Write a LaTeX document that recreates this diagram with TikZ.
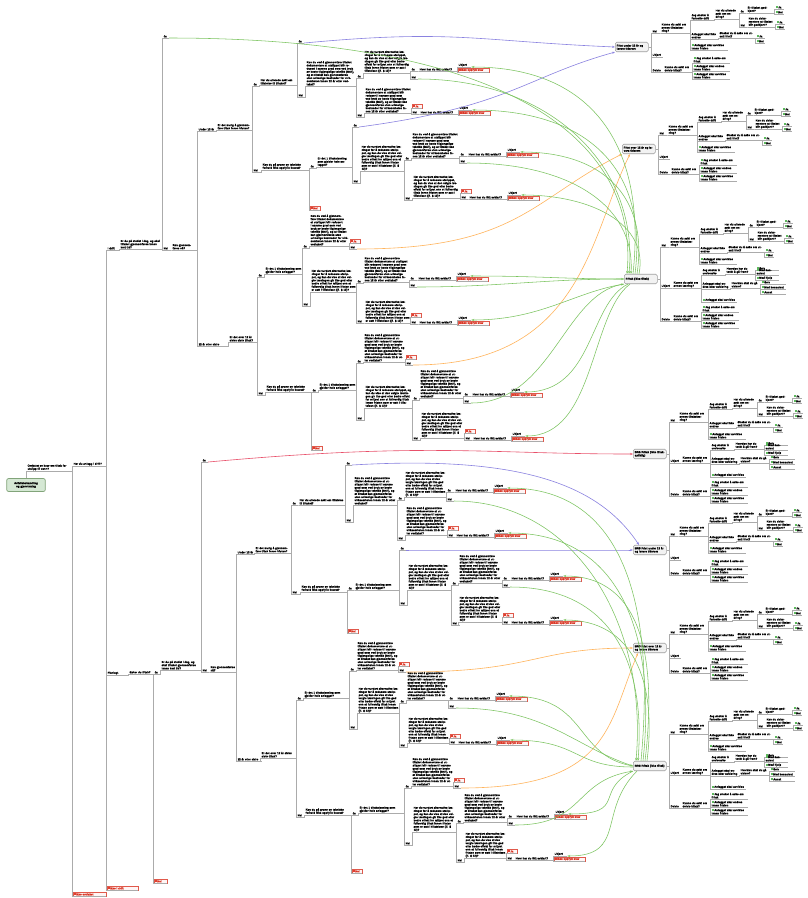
\documentclass[tikz,border=0pt]{standalone}
\usepackage{fontspec}
\setmainfont{Liberation Sans}[BoldFeatures={FakeBold=0.6}]
\usetikzlibrary{arrows.meta}
\definecolor{lg}{HTML}{ABABAB}
\definecolor{gcol}{HTML}{7CC460}
\definecolor{pcol}{HTML}{8A82E0}
\definecolor{ocol}{HTML}{FFB45C}
\definecolor{rcol}{HTML}{E8506A}
\definecolor{redt}{HTML}{D8301E}
\definecolor{iconr}{HTML}{E04030}
\definecolor{icong}{HTML}{5CB85C}
\definecolor{rootf}{HTML}{D5E8D4}
\definecolor{rootd}{HTML}{82A47A}
\newcommand\fnt{\fontsize{2.75}{3.15}\selectfont\bfseries}
\newcommand\ric{{\color{iconr}\rule{2.2pt}{2.2pt}}\hspace{0.5pt}}
\newcommand\gic{{\color{icong}\rule{2.2pt}{2.2pt}}\hspace{0.5pt}}
\newcommand\LA{Kan du ved å gjennomføre tiltaket dokumentere at utslippet blir redusert i samme grad som ved bruk av beste tilgjengelige teknikk (BAT), og at tiltaket kan gjennomføres uten urimelige kostnader for virksomheten innen 12 år etter vedtaket?}
\newcommand\LB{Har du vurdert alternative løsninger for å redusere utslippet, og kan du vise at den valgte løsningen gir like god eller bedre effekt for miljøet enn et fullverdig tiltak innen fristen som er satt i tillatelsen (jf. § 12)?}
\tikzset{
 ul/.style={draw=lg,line width=0.75pt},
 tn/.style={anchor=south west,inner xsep=0.4pt,inner ysep=0.5pt,font=\fnt,align=left,
   append after command={(\tikzlastnode.south west) edge[ul] (\tikzlastnode.south east)}},
 redleaf/.style={tn,text=redt,draw=redt!80,fill=red!4,line width=0.35pt},
 conn/.style={draw=lg,line width=0.75pt},
 rbox/.style={anchor=west,draw=gray!75,fill=gray!10,rounded corners=1.5pt,line width=0.6pt,minimum width=33pt,minimum height=9.5pt,text width=30pt,inner sep=0.8pt,align=left,font=\fnt},
 rootbox/.style={draw=rootd,fill=rootf,rounded corners=2pt,line width=0.7pt,minimum width=36pt,minimum height=13pt,text width=32pt,align=center,font=\fnt},
 arrowtip/.style={-{Stealth[length=3pt,width=2.2pt]}},
 gline/.style={draw=gcol,line width=0.55pt,arrowtip},
 pline/.style={draw=pcol,line width=0.6pt,arrowtip},
 oline/.style={draw=ocol,line width=0.6pt,arrowtip},
 rline/.style={draw=rcol,line width=0.6pt,arrowtip},
}
\newcommand\mkn[4]{\node[tn,text width=#3pt] (#1) at (#2) {#4};}
\newcommand\mkr[4]{\node[redleaf,text width=#3pt] (#1) at (#2) {\ric#4};}
\newcommand\mkg[4]{\node[tn,text width=#3pt] (#1) at (#2) {\gic#4};}
\newcommand\lnk[2]{\draw[conn] (#1.south east) -| ([xshift=-0.5pt]#2.south west) -- (#2.south west);}
\newcommand\blnk[2]{\draw[conn] (#1.east) -| ([xshift=-0.5pt]#2.south west) -- (#2.south west);}
\newcommand\hvr[4]{%
 \mkn{#1j}{#2,#3}{5.5}{#4}
 \mkn{#1h}{#2+8,#3}{37}{Hvor har du fått avklart?}
 \mkn{#1u}{#2+47,#3-4}{12}{Ukjent}
 \mkr{#1r}{#2+47,#3+1}{30}{Ikke oppfylt krav}
 \lnk{#1j}{#1h}\lnk{#1h}{#1u}\lnk{#1h}{#1r}}
\newcommand\neisub[1]{%
 \mkn{#1nei}{0,0}{7}{Nei}
 \mkn{#1q}{9,0}{27}{Kunne du søkt om annen tiltaksløsning?}
 \mkn{#1a}{39,-13}{22}{Jeg ønsker å fortsette drift}
 \mkn{#1aq}{63,-14}{23}{Har du allerede søkt om endring?}
 \mkn{#1aj}{88,-20}{5}{Ja}
 \mkn{#1ajq}{95,-20}{26}{Er tiltaket godkjent?}
 \mkg{#1ajqa}{123,-24}{8}{Ja}
 \mkg{#1ajqb}{123,-19}{8}{Nei}
 \mkn{#1an}{88,-6}{6}{Nei}
 \mkn{#1anq}{96,-6}{26}{Kan du dokumentere at tiltaket blir godkjent?}
 \mkg{#1anqa}{124,-9}{8}{Ja}
 \mkg{#1anqb}{124,-4}{8}{Nei}
 \mkn{#1b}{39,6}{26}{Anlegget skal ikke endres}
 \mkn{#1bq}{67,5}{34}{Ønsker du å søke om utsatt frist?}
 \mkg{#1bqa}{104,5}{8}{Ja}
 \mkg{#1bqb}{104,10}{8}{Nei}
 \mkg{#1c}{39,17}{36}{Anlegget skal avvikles innen fristen}
 \lnk{#1nei}{#1q}\lnk{#1q}{#1a}\lnk{#1q}{#1b}\lnk{#1q}{#1c}
 \lnk{#1a}{#1aq}\lnk{#1aq}{#1aj}\lnk{#1aq}{#1an}
 \lnk{#1aj}{#1ajq}\lnk{#1ajq}{#1ajqa}\lnk{#1ajq}{#1ajqb}
 \lnk{#1an}{#1anq}\lnk{#1anq}{#1anqa}\lnk{#1anq}{#1anqb}
 \lnk{#1b}{#1bq}\lnk{#1bq}{#1bqa}\lnk{#1bq}{#1bqb}}
\newcommand\delsub[1]{%
 \mkn{#1del}{0,0}{10}{Delvis}
 \mkn{#1dq}{12,0}{26}{Kunne du søkt om delvis fritak?}
 \mkg{#1da}{41,-9}{36}{Jeg ønsker å søke om fritak}
 \mkg{#1db}{41,-1}{36}{Anlegget skal endres innen fristen}
 \mkg{#1dc}{41,7}{36}{Anlegget skal avvikles innen fristen}
 \lnk{#1del}{#1dq}\lnk{#1dq}{#1da}\lnk{#1dq}{#1db}\lnk{#1dq}{#1dc}}
\newcommand\ukjsub[1]{%
 \mkn{#1u}{0,0}{10}{Ukjent}
 \mkn{#1uq}{12,0}{26}{Kunne du søkt om annen løsning?}
 \mkn{#1ua}{41,-13}{22}{Jeg ønsker å undersøke}
 \mkn{#1uaq}{65,-14}{27}{Hvordan har du tenkt å gå fram?}
 \mkg{#1uaa}{95,-18}{22}{Selv}
 \mkg{#1uab}{95,-13}{22}{Med konsulent}
 \mkg{#1uac}{95,-8}{22}{Med hjelp}
 \mkn{#1ub}{41,1}{27}{Anlegget skal endres etter avklaring}
 \mkn{#1ubq}{70,0}{27}{Hvordan skal du gå videre?}
 \mkg{#1uba}{100,-4}{24}{Selv}
 \mkg{#1ubb}{100,1}{24}{Med konsulent}
 \mkg{#1ubc}{100,6}{24}{Annet}
 \mkg{#1uc}{41,14}{34}{Anlegget skal avvikles}
 \lnk{#1u}{#1uq}\lnk{#1uq}{#1ua}\lnk{#1uq}{#1ub}\lnk{#1uq}{#1uc}
 \lnk{#1ua}{#1uaq}\lnk{#1uaq}{#1uaa}\lnk{#1uaq}{#1uab}\lnk{#1uaq}{#1uac}
 \lnk{#1ub}{#1ubq}\lnk{#1ubq}{#1uba}\lnk{#1ubq}{#1ubb}\lnk{#1ubq}{#1ubc}}
\newcommand\rshort[3]{\begin{scope}[shift={(#2)}]
 \node[rbox] (#1) at (0,0) {#3};
 \begin{scope}[shift={(37,-14)}]\neisub{#1}\end{scope}
 \begin{scope}[shift={(37,10)}]\mkn{#1u}{0,0}{10}{Ukjent}\end{scope}
 \begin{scope}[shift={(37,25)}]\delsub{#1}\end{scope}
 \blnk{#1}{#1nei}\blnk{#1}{#1u}\blnk{#1}{#1del}
 \end{scope}}
\newcommand\rfull[3]{\begin{scope}[shift={(#2)}]
 \node[rbox] (#1) at (0,0) {#3};
 \begin{scope}[shift={(37,-32)}]\neisub{#1}\end{scope}
 \begin{scope}[shift={(37,9)}]\ukjsub{#1}\end{scope}
 \begin{scope}[shift={(37,42)}]\delsub{#1}\end{scope}
 \blnk{#1}{#1nei}\blnk{#1}{#1u}\blnk{#1}{#1del}
 \end{scope}}
\begin{document}
\begin{tikzpicture}[x=1pt,y=-1pt]
\useasboundingbox (0,0) rectangle (807,898);
\fill[white] (0,0) rectangle (807,898);
% ---------- spine ----------
\node[rootbox] (root) at (26,485) {Avfallsbehandling og gjenvinning};
\mkn{A}{27,471}{43}{Omfattet av krav om tiltak for utslipp til vann?}
\draw[conn] (root.north) |- (A.south west);
\mkn{B}{73,466}{32}{Har du anlegg i drift?}
\mkr{C}{73,896}{32}{Ikke omfattet}
\lnk{A}{B}\lnk{A}{C}
\mkn{D1}{107,250}{11}{I drift}
\mkn{D2}{107,675}{20}{Planlagt}
\mkr{D3}{107,890}{30}{Ikke i drift}
\lnk{B}{D1}\lnk{B}{D2}\lnk{B}{D3}
% ---------- upper half ----------
\mkn{E1}{120,249}{40}{Er du på stedet i dag, og skal tiltaket gjennomføres innen kort tid?}
\lnk{D1}{E1}
\mkn{F1}{163,38}{5}{Ja}
\mkn{F2}{163,250}{7}{Nei}
\lnk{E1}{F1}\lnk{E1}{F2}
\mkn{G}{172,250}{24}{Kan gjennomføres nå?}
\lnk{F2}{G}
\mkn{H1}{198,131}{17}{Under 12 år}
\mkn{H2}{198,346}{28}{12 år eller eldre}
\lnk{G}{H1}\lnk{G}{H2}
\mkn{I1}{217,130}{34}{Er det mulig å gjennomføre tiltak innen fristen?}
\lnk{H1}{I1}
\mkn{J1}{253,86}{5}{Ja}
\mkn{J2}{253,172}{7}{Nei}
\lnk{I1}{J1}\lnk{I1}{J2}
\mkn{K1}{260,85}{36}{Har du allerede søkt om tillatelse til tiltaket?}
\lnk{J1}{K1}
\mkn{L1}{298,43}{5}{Ja}
\mkn{L2}{298,97}{6}{Nei}
\lnk{K1}{L1}\lnk{K1}{L2}
\mkn{M1}{306,86}{49}{\LA}
\lnk{L2}{M1}
\mkn{n1}{357,78}{5}{Ja}
\mkn{n2}{357,117}{6}{Nei}
\lnk{M1}{n1}\lnk{M1}{n2}
\mkn{N1}{364,73}{45}{\LB}
\mkn{N2}{365,113}{45}{\LA}
\lnk{n1}{N1}\lnk{n2}{N2}
\hvr{a1}{411}{71}{Ja}
\mkn{g1}{411,79}{6}{Nei}
\lnk{N1}{a1j}\lnk{N1}{g1}
\mkr{rr1}{412,108}{9}{Ja}
\hvr{a2}{412}{114}{Nei}
\lnk{N2}{rr1}\lnk{N2}{a2j}
\mkn{I2}{262,170}{46}{Kan du på grunn av tekniske forhold ikke oppfylle kravet?}
\lnk{J2}{I2}
\mkn{J3}{310,168}{5}{Ja}
\mkr{rr2}{310,210}{9}{Nei}
\lnk{I2}{J3}\lnk{I2}{rr2}
\mkn{K2}{317,167}{34}{Er det 1 tiltaksløsning som gjelder hele anlegget?}
\lnk{J3}{K2}
\mkn{L3}{353,127}{5}{Ja}
\mkn{L4}{353,183}{6}{Nei}
\lnk{K2}{L3}\lnk{K2}{L4}
\mkn{M2}{361,171}{42}{\LB}
\lnk{L4}{M2}
\mkn{n3}{405,160}{5}{Ja}
\mkn{n4}{405,200}{6}{Nei}
\lnk{M2}{n3}\lnk{M2}{n4}
\mkn{N3}{412,158}{45}{\LA}
\mkn{N4}{413,198}{45}{\LB}
\lnk{n3}{N3}\lnk{n4}{N4}
\hvr{a3}{460}{156}{Ja}
\mkn{g2}{460,163}{6}{Nei}
\lnk{N3}{a3j}\lnk{N3}{g2}
\mkr{rr3}{461,193}{9}{Ja}
\hvr{a4}{461}{199}{Nei}
\lnk{N4}{rr3}\lnk{N4}{a4j}
\mkn{I3}{229,342}{27}{Er det over 12 år siden siste tiltak?}
\lnk{H2}{I3}
\mkn{J5}{258,277}{5}{Ja}
\mkn{J6}{258,395}{6}{Nei}
\lnk{I3}{J5}\lnk{I3}{J6}
\mkn{K3}{265,274}{36}{Er det 1 tiltaksløsning som gjelder hele anlegget?}
\lnk{J5}{K3}
\mkn{L5}{303,248}{5}{Ja}
\mkn{L6}{303,306}{6}{Nei}
\lnk{K3}{L5}\lnk{K3}{L6}
\mkn{M3}{310,246}{38}{\LA}
\lnk{L5}{M3}
\mkr{rr4}{350,243}{9}{Ja}
\mkn{o1}{350,249}{6}{Nei}
\lnk{M3}{rr4}\lnk{M3}{o1}
\mkn{M4}{311,292}{44}{\LB}
\lnk{L6}{M4}
\mkn{n5}{357,283}{5}{Ja}
\mkn{n6}{357,323}{6}{Nei}
\lnk{M4}{n5}\lnk{M4}{n6}
\mkn{N5}{364,282}{44}{\LA}
\mkn{N6}{365,323}{44}{\LB}
\lnk{n5}{N5}\lnk{n6}{N6}
\hvr{a5}{410}{280}{Ja}
\mkn{g3}{410,287}{6}{Nei}
\lnk{N5}{a5j}\lnk{N5}{g3}
\mkr{rr5}{411,317}{9}{Ja}
\hvr{a6}{411}{324}{Nei}
\lnk{N6}{rr5}\lnk{N6}{a6j}
\mkn{I4}{266,392}{44}{Kan du på grunn av tekniske forhold ikke oppfylle kravet?}
\lnk{J6}{I4}
\mkn{J7}{312,392}{5}{Ja}
\mkr{rr6}{312,450}{9}{Nei}
\lnk{I4}{J7}\lnk{I4}{rr6}
\mkn{K4}{319,390}{36}{Er det 1 tiltaksløsning som gjelder hele anlegget?}
\lnk{J7}{K4}
\mkn{L7}{357,363}{5}{Ja}
\mkn{L8}{357,420}{6}{Nei}
\lnk{K4}{L7}\lnk{K4}{L8}
\mkn{M5}{364,362}{40}{\LA}
\lnk{L7}{M5}
\mkr{rr7}{406,359}{9}{Ja}
\mkn{o2}{406,365}{6}{Nei}
\lnk{M5}{rr7}\lnk{M5}{o2}
\mkn{M6}{365,408}{46}{\LB}
\lnk{L8}{M6}
\mkn{n7}{413,400}{5}{Ja}
\mkn{n8}{413,440}{6}{Nei}
\lnk{M6}{n7}\lnk{M6}{n8}
\mkn{N7}{420,398}{42}{\LA}
\mkn{N8}{421,438}{42}{\LB}
\lnk{n7}{N7}\lnk{n8}{N8}
\hvr{a7}{464}{396}{Ja}
\mkn{g4}{464,403}{6}{Nei}
\lnk{N7}{a7j}\lnk{N7}{g4}
\mkr{rr8}{465,433}{9}{Ja}
\hvr{a8}{465}{440}{Nei}
\lnk{N8}{rr8}\lnk{N8}{a8j}
% ---------- lower half ----------
\mkn{S}{129,674}{23}{Søker du tiltak?}
\lnk{D2}{S}
\mkn{T1}{154,674}{5}{Ja}
\mkr{rr9}{154,883}{12}{Nei}
\lnk{S}{T1}\lnk{S}{rr9}
\mkn{E2}{161,670}{39}{Er du på stedet i dag, og skal tiltaket gjennomføres innen kort tid?}
\lnk{T1}{E2}
\mkn{U1}{202,462}{5}{Ja}
\mkn{U2}{202,672}{6}{Nei}
\lnk{E2}{U1}\lnk{E2}{U2}
\mkn{G2}{210,672}{25}{Kan gjennomføres nå?}
\lnk{U2}{G2}
\mkn{H3}{237,554}{16}{Under 12 år}
\mkn{H4}{237,761}{23}{12 år eller eldre}
\lnk{G2}{H3}\lnk{G2}{H4}
\mkn{I5}{255,553}{35}{Er det mulig å gjennomføre tiltak innen fristen?}
\lnk{H3}{I5}
\mkn{V1}{292,505}{5}{Ja}
\mkn{V2}{292,594}{6}{Nei}
\lnk{I5}{V1}\lnk{I5}{V2}
\mkn{K5}{299,505}{45}{Har du allerede søkt om tillatelse til tiltaket?}
\lnk{V1}{K5}
\mkn{W1}{346,465}{5}{Ja}
\mkn{W2}{346,522}{6}{Nei}
\lnk{K5}{W1}\lnk{K5}{W2}
\mkn{M7}{354,505}{42}{\LA}
\lnk{W2}{M7}
\mkn{n9}{398,500}{5}{Ja}
\mkn{n10}{398,540}{6}{Nei}
\lnk{M7}{n9}\lnk{M7}{n10}
\mkn{N9}{405,497}{40}{\LB}
\mkn{N10}{406,535}{40}{\LA}
\lnk{n9}{N9}\lnk{n10}{N10}
\hvr{b1}{447}{492}{Ja}
\mkn{g5}{447,501}{6}{Nei}
\lnk{N9}{b1j}\lnk{N9}{g5}
\mkr{rr10}{448,530}{9}{Ja}
\hvr{b2}{448}{537}{Nei}
\lnk{N10}{rr10}\lnk{N10}{b2j}
\mkn{I6}{301,592}{45}{Kan du på grunn av tekniske forhold ikke oppfylle kravet?}
\lnk{V2}{I6}
\mkn{X1}{348,590}{5}{Ja}
\mkr{rr11}{348,633}{9}{Nei}
\lnk{I6}{X1}\lnk{I6}{rr11}
\mkn{K6}{355,590}{43}{Er det 1 tiltaksløsning som gjelder hele anlegget?}
\lnk{X1}{K6}
\mkn{W3}{400,550}{5}{Ja}
\mkn{W4}{400,605}{6}{Nei}
\lnk{K6}{W3}\lnk{K6}{W4}
\mkn{M8}{408,590}{42}{\LB}
\lnk{W4}{M8}
\mkn{n11}{452,585}{5}{Ja}
\mkn{n12}{452,625}{6}{Nei}
\lnk{M8}{n11}\lnk{M8}{n12}
\mkn{N11}{459,583}{42}{\LA}
\mkn{N12}{459,622}{42}{\LB}
\lnk{n11}{N11}\lnk{n12}{N12}
\hvr{b3}{503}{580}{Ja}
\mkn{g6}{503,587}{6}{Nei}
\lnk{N11}{b3j}\lnk{N11}{g6}
\mkr{rr12}{503,617}{9}{Ja}
\hvr{b4}{503}{624}{Nei}
\lnk{N12}{rr12}\lnk{N12}{b4j}
\mkn{I7}{261,758}{34}{Er det over 12 år siden siste tiltak?}
\lnk{H4}{I7}
\mkn{Y1}{297,700}{5}{Ja}
\mkn{Y2}{297,817}{6}{Nei}
\lnk{I7}{Y1}\lnk{I7}{Y2}
\mkn{K7}{304,698}{44}{Er det 1 tiltaksløsning som gjelder hele anlegget?}
\lnk{Y1}{K7}
\mkn{Z1}{350,671}{5}{Ja}
\mkn{Z2}{350,729}{6}{Nei}
\lnk{K7}{Z1}\lnk{K7}{Z2}
\mkn{M9}{357,670}{40}{\LA}
\lnk{Z1}{M9}
\mkr{rr13}{399,666}{9}{Ja}
\mkn{o3}{399,672}{6}{Nei}
\lnk{M9}{rr13}\lnk{M9}{o3}
\mkn{M10}{358,713}{40}{\LB}
\lnk{Z2}{M10}
\mkn{n13}{400,703}{5}{Ja}
\mkn{n14}{400,747}{6}{Nei}
\lnk{M10}{n13}\lnk{M10}{n14}
\mkn{N13}{407,700}{40}{\LA}
\mkn{N14}{408,743}{40}{\LB}
\lnk{n13}{N13}\lnk{n14}{N14}
\hvr{b5}{449}{700}{Ja}
\mkn{g7}{449,708}{6}{Nei}
\lnk{N13}{b5j}\lnk{N13}{g7}
\mkr{rr14}{450,738}{9}{Ja}
\hvr{b6}{450}{744}{Nei}
\lnk{N14}{rr14}\lnk{N14}{b6j}
\mkn{I8}{305,815}{45}{Kan du på grunn av tekniske forhold ikke oppfylle kravet?}
\lnk{Y2}{I8}
\mkn{Z3}{352,815}{5}{Ja}
\mkr{rr15}{352,873}{9}{Nei}
\lnk{I8}{Z3}\lnk{I8}{rr15}
\mkn{K8}{359,813}{44}{Er det 1 tiltaksløsning som gjelder hele anlegget?}
\lnk{Z3}{K8}
\mkn{Z4}{405,788}{5}{Ja}
\mkn{Z5}{405,845}{6}{Nei}
\lnk{K8}{Z4}\lnk{K8}{Z5}
\mkn{M11}{412,786}{40}{\LA}
\lnk{Z4}{M11}
\mkr{rr16}{454,782}{9}{Ja}
\mkn{o4}{454,788}{6}{Nei}
\lnk{M11}{rr16}\lnk{M11}{o4}
\mkn{M12}{413,832}{42}{\LB}
\lnk{Z5}{M12}
\mkn{n15}{457,823}{5}{Ja}
\mkn{n16}{457,862}{6}{Nei}
\lnk{M12}{n15}\lnk{M12}{n16}
\mkn{N15}{464,822}{42}{\LA}
\mkn{N16}{465,858}{40}{\LB}
\lnk{n15}{N15}\lnk{n16}{N16}
\hvr{b7}{508}{818}{Ja}
\mkn{g8}{508,825}{6}{Nei}
\lnk{N15}{b7j}\lnk{N15}{g8}
\mkr{rr17}{507,853}{9}{Ja}
\hvr{b8}{507}{860}{Nei}
\lnk{N16}{rr17}\lnk{N16}{b8j}
% ---------- right side ----------
\rshort{r1}{615,47}{Frist under 12 år og lavere tidsrom}
\rshort{r2}{622,149}{Frist over 12 år og lavere tidsrom}
\rfull{r3}{624,279}{Fritak (ikke tiltak)}
\rfull{r4}{633,454}{BRS Fritak (ikke tiltakspliktig)}
\rshort{r5}{633,550}{BRS Frist under 12 år og lavere tidsrom}
\rshort{r6}{633,648}{BRS Frist over 12 år og lavere tidsrom}
\rfull{r7}{633,766}{BRS Fritak (ikke tiltak)}
% ---------- coloured links, upper ----------
\draw[pline] (L1.south east) .. controls +(150,-14) and +(-140,-6) .. (r1.west);
\draw[pline] (L3.south east) .. controls +(150,-20) and +(-90,25) .. (r1.south west);
\draw[oline] (o1.south east) .. controls +(160,0) and +(-90,45) .. (r2.south west);
\draw[oline] (o2.south east) .. controls +(170,0) and +(-40,80) .. ([xshift=8pt]r2.south west);
\draw[gline] (F1.south east) .. controls +(330,0) and +(12,-140) .. ([xshift=3pt]r3.north west);
\draw[gline] (g1.south east) .. controls +(130,0) and +(10,-110) .. ([xshift=5pt]r3.north west);
\draw[gline] (g2.south east) .. controls +(100,0) and +(4,-70) .. ([xshift=7pt]r3.north west);
\draw[gline] (g3.south east) .. controls +(80,0) and +(-80,0) .. (r3.west);
\draw[gline] (g4.south east) .. controls +(80,0) and +(-60,10) .. (r3.south west);
\draw[gline] ([xshift=9pt]r3.north west) .. controls +(14,-130) and +(120,0) .. (a1u.south east);
\draw[gline] ([xshift=11pt]r3.north west) .. controls +(14,-110) and +(110,0) .. (a2u.south east);
\draw[gline] ([xshift=13pt]r3.north west) .. controls +(12,-80) and +(80,0) .. (a3u.south east);
\draw[gline] ([xshift=15pt]r3.north west) .. controls +(10,-50) and +(70,0) .. (a4u.south east);
\draw[gline] (r3.west) .. controls +(-60,0) and +(70,0) .. (a5u.south east);
\draw[gline] (r3.south west) .. controls +(-50,8) and +(70,0) .. (a6u.south east);
\draw[gline] ([xshift=4pt]r3.south west) .. controls +(-40,20) and +(70,0) .. (a7u.south east);
\draw[gline] ([xshift=6pt]r3.south west) .. controls +(-40,30) and +(70,0) .. (a8u.south east);
% ---------- coloured links, lower ----------
\draw[rline] (U1.south east) .. controls +(220,-20) and +(-150,0) .. (r4.west);
\draw[pline] (W1.south east) .. controls +(170,-10) and +(-40,-60) .. ([xshift=6pt]r5.north west);
\draw[pline] (W3.south east) .. controls +(110,0) and +(-100,0) .. (r5.west);
\draw[oline] (o3.south east) .. controls +(130,0) and +(-100,0) .. (r6.west);
\draw[oline] (o4.south east) .. controls +(150,0) and +(-30,70) .. ([xshift=5pt]r6.south west);
\draw[gline] (g5.south east) .. controls +(120,0) and +(12,-140) .. ([xshift=3pt]r7.north west);
\draw[gline] (g6.south east) .. controls +(100,0) and +(8,-100) .. ([xshift=5pt]r7.north west);
\draw[gline] (g7.south east) .. controls +(90,0) and +(-60,-20) .. (r7.west);
\draw[gline] (g8.south east) .. controls +(70,0) and +(-60,10) .. (r7.south west);
\draw[gline] ([xshift=8pt]r7.north west) .. controls +(14,-150) and +(120,0) .. (b1u.south east);
\draw[gline] ([xshift=10pt]r7.north west) .. controls +(14,-130) and +(110,0) .. (b2u.south east);
\draw[gline] ([xshift=12pt]r7.north west) .. controls +(12,-100) and +(80,0) .. (b3u.south east);
\draw[gline] ([xshift=14pt]r7.north west) .. controls +(10,-80) and +(70,0) .. (b4u.south east);
\draw[gline] (r7.west) .. controls +(-60,-10) and +(80,0) .. (b5u.south east);
\draw[gline] ([yshift=-1pt]r7.west) .. controls +(-60,0) and +(70,0) .. (b6u.south east);
\draw[gline] (r7.south west) .. controls +(-40,20) and +(60,0) .. (b7u.south east);
\draw[gline] ([xshift=4pt]r7.south west) .. controls +(-40,40) and +(60,0) .. (b8u.south east);
\end{tikzpicture}
\end{document}
